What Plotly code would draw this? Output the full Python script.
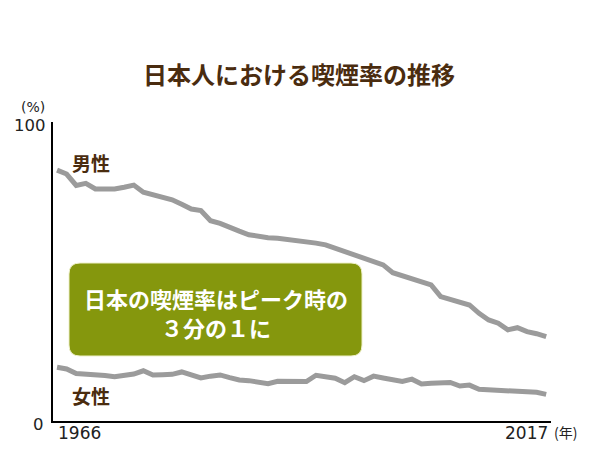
import plotly.graph_objects as go

# Data: smoking rate (%) in Japan, 1966-2017
years = list(range(1966, 2018))
male = [83.9, 82.6, 78.8, 79.5, 77.6, 77.5, 77.6, 78.2, 78.9, 76.5,
        75.6, 75.1, 74.0, 72.5, 70.9, 70.4, 67.0, 66.1, 65.0, 63.5,
        62.3, 61.7, 61.3, 61.1, 60.8, 60.5, 60.0, 59.5, 58.9, 57.8,
        56.6, 55.5, 54.4, 53.6, 52.2, 49.6, 48.6, 47.8, 46.4, 45.5,
        41.6, 40.8, 39.9, 38.8, 36.0, 33.8, 32.7, 30.5, 31.2, 29.9,
        29.2, 28.2]
female = [18.0, 17.4, 15.9, 15.8, 15.7, 15.2, 14.8, 15.4, 15.7, 16.8,
          15.4, 15.5, 15.6, 16.4, 15.4, 14.4, 15.0, 15.4, 14.5, 13.7,
          13.5, 13.2, 12.5, 13.3, 13.4, 13.3, 13.2, 15.3, 14.6, 14.3,
          12.8, 14.8, 13.5, 15.0, 14.4, 13.7, 13.2, 14.0, 12.4, 12.6,
          12.8, 12.9, 11.7, 12.0, 10.6, 10.4, 10.4, 10.2, 9.8, 9.6,
          9.6, 8.9]

title_text = '日本人における喫煙率の推移'
box_lines = ['日本の喫煙率はピーク時の', '３分の１に']

brown = '#4a2c0f'
gray = '#9b9b9b'
olive = '#85970d'
cjk = 'Noto Sans CJK JP'
num_font = 'DejaVu Sans'

# the page body has an 8px margin, so the figure is drawn 8px in
OFF = 8
W, H = 600 - 2 * OFF, 450 - 2 * OFF
# plot area in page pixels
L, R, T, B = 53, 551, 122, 421


def px(x, y):
    # page pixel -> paper coords
    return (x - L) / (R - L), (B - y) / (B - T)


def rounded_rect(x0, y0, x1, y1, r):
    left, top = px(x0, y0)
    right, bottom = px(x1, y1)
    rx = r / (R - L)
    ry = r / (B - T)
    return (f'M {left + rx},{top} L {right - rx},{top} '
            f'Q {right},{top} {right},{top - ry} '
            f'L {right},{bottom + ry} Q {right},{bottom} {right - rx},{bottom} '
            f'L {left + rx},{bottom} Q {left},{bottom} {left},{bottom + ry} '
            f'L {left},{top - ry} Q {left},{top} {left + rx},{top} Z')


fig = go.Figure()
fig.add_trace(go.Scatter(x=years, y=male, mode='lines', name='男性',
                         line=dict(color=gray, width=5)))
fig.add_trace(go.Scatter(x=years, y=female, mode='lines', name='女性',
                         line=dict(color=gray, width=5)))

fig.add_shape(type='path', xref='paper', yref='paper',
              path=rounded_rect(69, 263, 362, 356, 11),
              fillcolor=olive, line=dict(color='#eef0c8', width=1), layer='above')

annots = []


def add_text(text, x, y, size, color, family, xanchor='center', xref='paper', bold=False):
    if xref == 'paper':
        xp, yp = px(x, y)
    else:
        xp, yp = x, px(0, y)[1]
    annots.append(dict(text=f'<b>{text}</b>' if bold else text, x=xp, y=yp,
                       xref=xref, yref='paper', xanchor=xanchor, yanchor='middle',
                       showarrow=False, borderpad=0,
                       font=dict(size=size, color=color, family=family)))


add_text(title_text, 299, 73, 24, brown, cjk, bold=True)
add_text('男性', 71, 162, 19, brown, cjk, xanchor='left', bold=True)
add_text('女性', 71, 395, 19, brown, cjk, xanchor='left', bold=True)
add_text(box_lines[0], 216, 298, 22, 'white', cjk, bold=True)
add_text(box_lines[1], 216, 327, 22, 'white', cjk, bold=True)
add_text('(%)', 46, 107, 14, '#222', num_font, xanchor='right')
add_text('100', 47, 125, 16.5, '#222', num_font, xanchor='right')
add_text('0', 45, 424, 16.5, '#222', num_font, xanchor='right')
add_text(str(years[0]), years[0], 433, 17, '#222', num_font, xanchor='left', xref='x')
add_text(str(years[-1]), years[-1] + 0.3, 433, 17, '#222', num_font, xanchor='right', xref='x')
add_text('(年)', 553, 432, 14, '#222', cjk, xanchor='left')

fig.update_layout(
    width=W, height=H,
    margin=dict(l=L - OFF, r=600 - OFF - R, t=T - OFF, b=450 - OFF - B),
    paper_bgcolor='white', plot_bgcolor='white',
    showlegend=False,
    annotations=annots,
    xaxis=dict(range=[1965.58, 2017.5], showgrid=False, zeroline=False,
               showticklabels=False, ticks='', showline=True,
               linecolor='black', linewidth=1.5),
    yaxis=dict(range=[0, 100], showgrid=False, zeroline=False,
               showticklabels=False, ticks='', showline=True,
               linecolor='black', linewidth=1.5),
)

fig.write_html('out.html')
